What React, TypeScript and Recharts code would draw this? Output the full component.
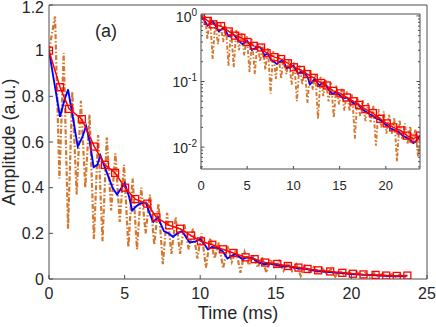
import { LineChart, Line, XAxis, YAxis } from "recharts";

// red squares (sampled fit)
const redTime = [0, 0.73, 1.33, 2.17, 3.0, 3.7, 4.37, 5.03, 5.7, 6.5, 7.1, 7.95, 8.67, 9.4, 10.05, 10.8, 11.5, 12.2, 13.0, 13.6, 14.3, 15.1, 15.8, 16.5, 17.1, 17.8, 18.6, 19.4, 20.1, 20.8, 21.6, 22.3, 23.0, 23.7];
const redAmp = [1.0, 0.84, 0.745, 0.7, 0.58, 0.5, 0.465, 0.4, 0.35, 0.33, 0.27, 0.235, 0.22, 0.19, 0.165, 0.15, 0.13, 0.114, 0.095, 0.087, 0.072, 0.066, 0.057, 0.05, 0.044, 0.038, 0.033, 0.027, 0.023, 0.02, 0.018, 0.015, 0.0135, 0.015];

// blue solid line
const blueTime = [0, 0.3, 0.73, 1.0, 1.26, 1.6, 1.9, 2.2, 2.45, 2.7, 2.95, 3.2, 3.4, 3.8, 4.2, 4.5, 4.8, 5.0, 5.3, 5.5, 5.8, 6.0, 6.4, 6.7, 6.9, 7.2, 7.6, 7.9, 8.2, 8.5, 8.8, 9.1, 9.3, 9.7, 10.0, 10.3, 10.5, 10.8, 11.2, 11.5, 11.8, 12.3, 12.8, 13.1, 13.5, 13.8, 14.2, 14.6, 15.0, 15.4, 15.8, 16.2, 16.6, 17.0, 17.4, 17.8, 18.2, 18.6, 19.0, 19.4, 19.8, 20.2, 20.6, 21.0, 21.4, 21.8, 22.2, 22.6, 23.0, 23.3, 23.7];
const blueAmp = [1.0, 0.88, 0.71, 0.78, 0.83, 0.7, 0.58, 0.62, 0.67, 0.6, 0.49, 0.5, 0.54, 0.47, 0.4, 0.37, 0.4, 0.42, 0.36, 0.3, 0.32, 0.33, 0.335, 0.28, 0.25, 0.27, 0.21, 0.2, 0.185, 0.2, 0.21, 0.18, 0.16, 0.165, 0.175, 0.15, 0.13, 0.14, 0.135, 0.12, 0.09, 0.11, 0.087, 0.095, 0.09, 0.075, 0.065, 0.068, 0.062, 0.055, 0.057, 0.05, 0.046, 0.045, 0.038, 0.035, 0.032, 0.03, 0.027, 0.026, 0.023, 0.021, 0.019, 0.018, 0.017, 0.015, 0.014, 0.013, 0.0115, 0.0125, 0.015];

// orange dash-dot (raw signal)
const orangeTime = [0, 0.4, 0.69, 0.97, 1.26, 1.54, 1.83, 2.11, 2.4, 2.68, 2.97, 3.25, 3.54, 3.82, 4.11, 4.39, 4.68, 4.96, 5.25, 5.53, 5.82, 6.1, 6.39, 6.67, 6.96, 7.24, 7.53, 7.81, 8.1, 8.38, 8.67, 8.95, 9.24, 9.52, 9.81, 10.09, 10.38, 10.66, 10.95, 11.23, 11.52, 11.8, 12.09, 12.37, 12.66, 12.94, 13.23, 13.51, 13.8, 14.08, 14.37, 14.65, 14.94, 15.22, 15.51, 15.79, 16.08, 16.36, 16.65, 16.93, 17.22, 17.5, 17.79, 18.07, 18.36, 18.64, 18.93, 19.21, 19.5, 19.78, 20.07, 20.35, 20.64, 20.92, 21.21, 21.49, 21.78, 22.06, 22.35, 22.63, 22.92, 23.2, 23.49, 23.7];
const orangeAmp = [1.0, 1.15, 0.44, 0.99, 0.22, 0.82, 0.37, 0.78, 0.4, 0.72, 0.175, 0.63, 0.165, 0.62, 0.3, 0.55, 0.25, 0.5, 0.14, 0.44, 0.13, 0.4, 0.2, 0.37, 0.15, 0.33, 0.065, 0.29, 0.11, 0.27, 0.11, 0.24, 0.13, 0.22, 0.09, 0.2, 0.05, 0.18, 0.09, 0.16, 0.047, 0.145, 0.075, 0.13, 0.027, 0.118, 0.06, 0.105, 0.05, 0.096, 0.028, 0.087, 0.045, 0.078, 0.036, 0.071, 0.035, 0.064, 0.0135, 0.058, 0.03, 0.052, 0.025, 0.047, 0.024, 0.043, 0.0105, 0.038, 0.02, 0.035, 0.016, 0.031, 0.016, 0.028, 0.006, 0.026, 0.013, 0.023, 0.011, 0.021, 0.011, 0.019, 0.007, 0.016];

const mainXTicks = [0, 5, 10, 15, 20, 25];
const mainYTicks = [0, 0.2, 0.4, 0.6, 0.8, 1, 1.2];
const insetXTicks = [0, 5, 10, 15, 20];
const insetMajor = [0.01, 0.1, 1];
const insetYTicks = [0.005, 0.006, 0.007, 0.008, 0.009, 0.01, 0.02, 0.03, 0.04, 0.05, 0.06, 0.07, 0.08, 0.09, 0.1, 0.2, 0.3, 0.4, 0.5, 0.6, 0.7, 0.8, 0.9, 1];

const zip = (t: number[], v: number[]) => t.map((x, i) => ({ t: x, v: v[i] }));
const redData = zip(redTime, redAmp);
const blueData = zip(blueTime, blueAmp);
const orangeData = zip(orangeTime, orangeAmp);

const TEXT = "#262626";
const FRAME = "#4d4d4d";
const ORANGE = "#D4782F";
const FONT = "'Liberation Sans', Arial, sans-serif";

const SquareDot = (props: any) => {
  const { cx, cy } = props;
  if (cx == null || cy == null) return null;
  return <rect x={cx - 3.5} y={cy - 3.5} width={7} height={7} fill="none" stroke="#ff0000" strokeWidth={1.3} />;
};

// main axes ticks (MATLAB style, pointing inward)
const MainBottomTick = (props: any) => {
  const { x, y, payload } = props;
  return (
    <g>
      <line x1={x} y1={y} x2={x} y2={y - 4} stroke={FRAME} />
      <text x={x} y={y + 20} textAnchor="middle" fontSize={16} fill={TEXT}>
        {payload.value}
      </text>
    </g>
  );
};
const MainTopTick = (props: any) => <line x1={props.x} y1={props.y} x2={props.x} y2={props.y + 4} stroke={FRAME} />;
const MainLeftTick = (props: any) => {
  const { x, y, payload } = props;
  return (
    <g>
      <line x1={x} y1={y} x2={x + 4} y2={y} stroke={FRAME} />
      <text x={x - 5} y={Math.max(y, 7.5)} dy="0.36em" textAnchor="end" fontSize={16} fill={TEXT}>
        {payload.value}
      </text>
    </g>
  );
};
const MainRightTick = (props: any) => <line x1={props.x} y1={props.y} x2={props.x - 4} y2={props.y} stroke={FRAME} />;

// inset ticks
const InsetBottomTick = (props: any) => {
  const { x, y, payload } = props;
  return (
    <g>
      <line x1={x} y1={y} x2={x} y2={y - 3} stroke={FRAME} />
      <text x={x} y={y + 21} textAnchor="middle" fontSize={13} fill={TEXT}>
        {payload.value}
      </text>
    </g>
  );
};
const InsetTopTick = (props: any) => <line x1={props.x} y1={props.y} x2={props.x} y2={props.y + 3} stroke={FRAME} />;
const InsetLeftTick = (props: any) => {
  const { x, y, payload } = props;
  const major = insetMajor.includes(payload.value);
  return (
    <g>
      <line x1={x} y1={y} x2={x + (major ? 3.5 : 2)} y2={y} stroke={FRAME} />
      {major && (
        <text x={x - 4} y={y} dy="0.4em" textAnchor="end" fontSize={14} fill={TEXT}>
          10
          <tspan dy="-0.6em" fontSize={10}>
            {Math.round(Math.log10(payload.value))}
          </tspan>
        </text>
      )}
    </g>
  );
};
const InsetRightTick = (props: any) => {
  const { x, y, payload } = props;
  const major = insetMajor.includes(payload.value);
  return <line x1={x} y1={y} x2={x - (major ? 3.5 : 2)} y2={y} stroke={FRAME} />;
};

const W = 436;
const H = 327;

export default function App() {
  return (
    <div style={{ position: "absolute", left: 0, top: 0, width: W, height: H, fontFamily: FONT, background: "#fff" }}>
      <div style={{ position: "absolute", left: 0, top: 0 }}>
        <LineChart width={W} height={H} margin={{ top: 4, right: 8, bottom: 47, left: 48 }}>
          <XAxis type="number" dataKey="t" domain={[0, 25]} ticks={mainXTicks} interval={0} height={1} tickSize={0} tickMargin={0} tickLine={false} tick={<MainBottomTick />} axisLine={{ stroke: FRAME }} allowDataOverflow />
          <XAxis xAxisId="top" orientation="top" type="number" domain={[0, 25]} ticks={mainXTicks} interval={0} height={1} tickSize={0} tickMargin={0} tickLine={false} tick={<MainTopTick />} axisLine={{ stroke: FRAME }} />
          <YAxis type="number" domain={[0, 1.2]} ticks={mainYTicks} interval={0} width={1} tickSize={0} tickMargin={0} tickLine={false} tick={<MainLeftTick />} axisLine={{ stroke: FRAME }} allowDataOverflow />
          <YAxis yAxisId="right" orientation="right" type="number" domain={[0, 1.2]} ticks={mainYTicks} interval={0} width={1} tickSize={0} tickMargin={0} tickLine={false} tick={<MainRightTick />} axisLine={{ stroke: FRAME }} />
          <Line data={orangeData} dataKey="v" type="linear" stroke={ORANGE} strokeWidth={2.2} strokeDasharray="5 2 1.5 2" dot={false} activeDot={false} isAnimationActive={false} />
          <Line data={blueData} dataKey="v" type="linear" stroke="#0000ff" strokeWidth={1.9} dot={false} activeDot={false} isAnimationActive={false} />
          <Line data={redData} dataKey="v" type="linear" stroke="#ff0000" strokeWidth={1.5} dot={<SquareDot />} activeDot={false} isAnimationActive={false} />
        </LineChart>
      </div>
      <div style={{ position: "absolute", left: 0, top: 0 }}>
        <LineChart width={W} height={H} margin={{ top: 13, right: 15, bottom: 157, left: 200 }}>
          <XAxis type="number" dataKey="t" domain={[0, 23.7]} ticks={insetXTicks} interval={0} height={1} tickSize={0} tickMargin={0} tickLine={false} tick={<InsetBottomTick />} axisLine={{ stroke: FRAME }} allowDataOverflow />
          <XAxis xAxisId="top" orientation="top" type="number" domain={[0, 23.7]} ticks={insetXTicks} interval={0} height={1} tickSize={0} tickMargin={0} tickLine={false} tick={<InsetTopTick />} axisLine={{ stroke: FRAME }} />
          <YAxis type="number" scale="log" domain={[0.00464, 1.07]} ticks={insetYTicks} interval={0} width={1} tickSize={0} tickMargin={0} tickLine={false} tick={<InsetLeftTick />} axisLine={{ stroke: FRAME }} allowDataOverflow />
          <YAxis yAxisId="right" orientation="right" type="number" scale="log" domain={[0.00464, 1.07]} ticks={insetYTicks} interval={0} width={1} tickSize={0} tickMargin={0} tickLine={false} tick={<InsetRightTick />} axisLine={{ stroke: FRAME }} allowDataOverflow />
          <Line data={orangeData} dataKey="v" type="linear" stroke={ORANGE} strokeWidth={1.9} strokeDasharray="4 2 1.5 2" dot={false} activeDot={false} isAnimationActive={false} />
          <Line data={blueData} dataKey="v" type="linear" stroke="#0000ff" strokeWidth={1.6} dot={false} activeDot={false} isAnimationActive={false} />
          <Line data={redData} dataKey="v" type="linear" stroke="#ff0000" strokeWidth={1.4} dot={<SquareDot />} activeDot={false} isAnimationActive={false} />
        </LineChart>
      </div>
      <svg width={W} height={H} style={{ position: "absolute", left: 0, top: 0, pointerEvents: "none" }}>
        <text x={106} y={37} textAnchor="middle" fontSize={18} fill={TEXT}>
          (a)
        </text>
        <text x={238} y={319} textAnchor="middle" fontSize={18} fill={TEXT}>
          Time (ms)
        </text>
        <text x={15} y={142} textAnchor="middle" fontSize={18} fill={TEXT} transform="rotate(-90 15 142)">
          Amplitude (a.u.)
        </text>
      </svg>
    </div>
  );
}
